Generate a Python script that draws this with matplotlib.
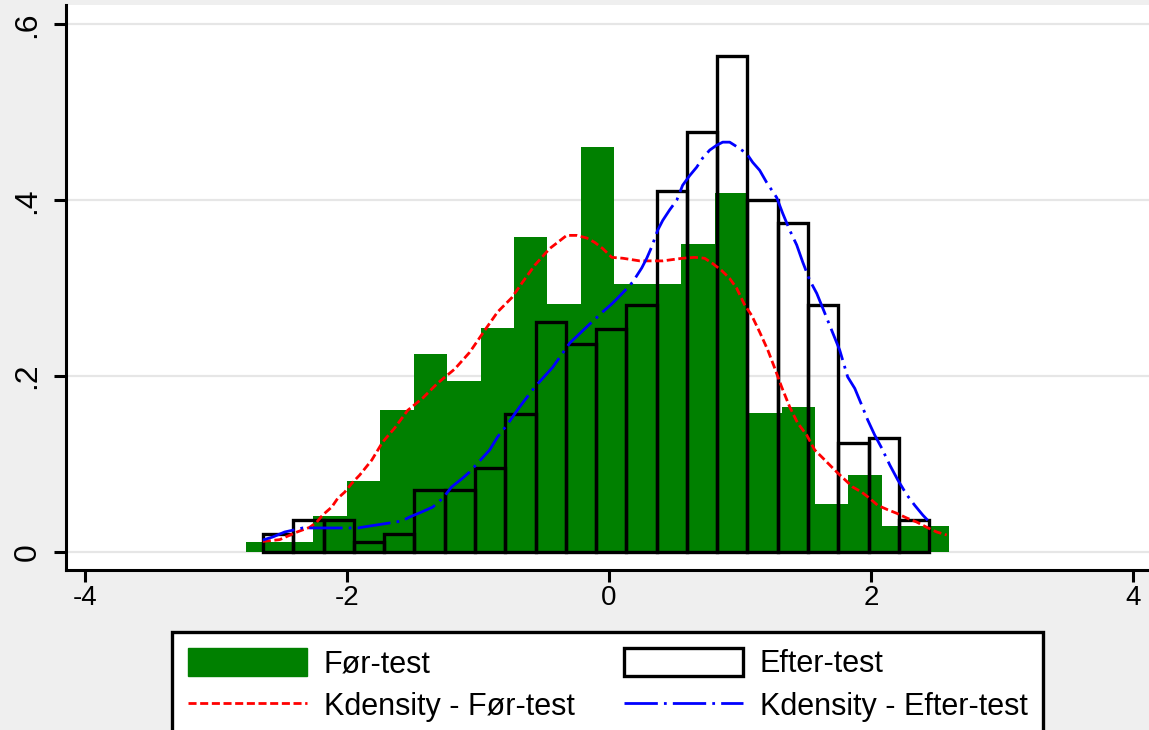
import numpy as np
import matplotlib
matplotlib.use("Agg")
import matplotlib.pyplot as plt
from matplotlib.patches import Patch
from matplotlib.lines import Line2D

plt.rcParams['font.family'] = ['Liberation Sans', 'DejaVu Sans']

# histogram "Før-test" (green): 21 bins
foer_start = -2.768
foer_width = 0.2553
foer_heights = [0.011, 0.011, 0.041, 0.081, 0.161, 0.225, 0.194, 0.255, 0.358, 0.282, 0.461,
                0.305, 0.305, 0.350, 0.408, 0.158, 0.165, 0.054, 0.088, 0.030, 0.030]

# histogram "Efter-test" (outlined): 22 bins
efter_start = -2.641
efter_width = 0.2311
efter_heights = [0.021, 0.036, 0.036, 0.011, 0.021, 0.0705, 0.0705, 0.096, 0.157, 0.261, 0.236,
                 0.253, 0.281, 0.410, 0.478, 0.564, 0.400, 0.374, 0.281, 0.124, 0.130, 0.036]

# kernel density, Før-test
kd_foer_x = [-2.643, -2.514, -2.438, -2.377, -2.285, -2.231, -2.186, -2.117, -2.071, -2.018,
             -1.964, -1.903, -1.811, -1.728, -1.636, -1.537, -1.422, -1.308, -1.178, -1.064,
             -0.949, -0.850, -0.743, -0.659, -0.567, -0.453, -0.323, -0.247, -0.170, -0.109,
             -0.048, 0.021, 0.105, 0.234, 0.410, 0.562, 0.654, 0.730, 0.791, 0.860,
             0.921, 0.974, 1.035, 1.089, 1.150, 1.211, 1.265, 1.318, 1.379, 1.440,
             1.509, 1.570, 1.631, 1.700, 1.746, 1.860, 1.929, 1.990, 2.051, 2.128,
             2.196, 2.273, 2.349, 2.426, 2.502, 2.578]
kd_foer_y = [0.012, 0.014, 0.019, 0.023, 0.028, 0.034, 0.042, 0.051, 0.061, 0.068,
             0.078, 0.0875, 0.1045, 0.125, 0.141, 0.161, 0.175, 0.192, 0.208, 0.227,
             0.252, 0.273, 0.289, 0.307, 0.326, 0.345, 0.360, 0.360, 0.357, 0.352,
             0.345, 0.335, 0.334, 0.331, 0.331, 0.334, 0.335, 0.334, 0.328, 0.320,
             0.311, 0.300, 0.281, 0.269, 0.250, 0.230, 0.209, 0.1875, 0.165, 0.1466,
             0.133, 0.116, 0.107, 0.0966, 0.0898, 0.0739, 0.068, 0.061, 0.053, 0.048,
             0.044, 0.0386, 0.034, 0.028, 0.0227, 0.0193]

# kernel density, Efter-test
kd_efter_x = [-2.643, -2.567, -2.476, -2.338, -2.132, -1.918, -1.827, -1.674, -1.582, -1.521,
              -1.430, -1.346, -1.270, -1.201, -1.117, -1.064, -1.003, -0.911, -0.850, -0.781,
              -0.682, -0.567, -0.430, -0.300, -0.170, -0.048, 0.028, 0.120, 0.181, 0.250,
              0.288, 0.326, 0.372, 0.410, 0.463, 0.517, 0.562, 0.616, 0.669, 0.715,
              0.769, 0.822, 0.868, 0.921, 0.974, 1.051, 1.097, 1.150, 1.204, 1.280,
              1.326, 1.379, 1.433, 1.479, 1.532, 1.586, 1.647, 1.700, 1.761, 1.822,
              1.876, 1.929, 1.975, 2.028, 2.082, 2.143, 2.204, 2.273, 2.334, 2.395, 2.433]
kd_efter_y = [0.0136, 0.017, 0.0227, 0.0273, 0.0273, 0.0273, 0.0295, 0.033, 0.0352, 0.0398,
              0.0455, 0.051, 0.061, 0.074, 0.084, 0.091, 0.101, 0.116, 0.131, 0.144,
              0.165, 0.1875, 0.210, 0.2375, 0.256, 0.273, 0.283, 0.297, 0.307, 0.323,
              0.334, 0.347, 0.366, 0.377, 0.389, 0.400, 0.417, 0.428, 0.4375, 0.448,
              0.457, 0.4625, 0.466, 0.466, 0.461, 0.453, 0.443, 0.434, 0.420, 0.403,
              0.385, 0.366, 0.349, 0.3295, 0.309, 0.294, 0.2716, 0.252, 0.2295, 0.199,
              0.186, 0.167, 0.150, 0.133, 0.118, 0.099, 0.082, 0.065, 0.053, 0.042, 0.036]

y_ticks = [0, 0.2, 0.4, 0.6]
y_labels = ['0', '.2', '.4', '.6']
x_ticks = [-4, -2, 0, 2, 4]
x_labels = ['-4', '-2', '0', '2', '4']

green = '#008000'

fig = plt.figure(figsize=(11.49, 7.30), dpi=100, facecolor='#efefef')
ax = fig.add_axes([65.5 / 1149, 1 - 570 / 730, 1 - 65.5 / 1149, (570 - 4.7) / 730])
ax.set_facecolor('white')

foer_edges = foer_start + foer_width * np.arange(len(foer_heights))
efter_edges = efter_start + efter_width * np.arange(len(efter_heights))

ax.bar(foer_edges, foer_heights, width=foer_width, align='edge', color=green,
       linewidth=0, zorder=2)
ax.bar(efter_edges, efter_heights, width=efter_width, align='edge', fill=False,
       edgecolor='black', linewidth=2.4, zorder=3)

ax.plot(kd_foer_x, kd_foer_y, color='red', linewidth=2.0, dashes=(2.9, 1.3), zorder=4)
ax.plot(kd_efter_x, kd_efter_y, color='blue', linewidth=2.0, dashes=(12, 2.2, 1, 2.2), zorder=4)

ax.set_xlim(-4.149, 4.122)
ax.set_ylim(-0.0205, 0.6223)
ax.set_xticks(x_ticks)
ax.set_xticklabels(x_labels, fontsize=20)
ax.set_yticks(y_ticks)
ax.set_yticklabels(y_labels, fontsize=23, rotation=90, va='center')
ax.yaxis.grid(True, color='#e6e6e6', linewidth=1.6, zorder=0)
ax.set_axisbelow(True)

for side in ['top', 'right']:
    ax.spines[side].set_visible(False)
for side in ['left', 'bottom']:
    ax.spines[side].set_linewidth(2.2)
ax.tick_params(axis='both', direction='out', length=8.6, width=2.2, color='black')
ax.tick_params(axis='y', pad=8)
ax.tick_params(axis='x', pad=2.5)

handles = [Patch(facecolor=green, edgecolor=green),
           Line2D([], [], color='red', linewidth=2.0, dashes=(2.9, 1.3)),
           Patch(facecolor='white', edgecolor='black', linewidth=2.4),
           Line2D([], [], color='blue', linewidth=2.0, dashes=(12, 2.2, 1, 2.2))]
labels = ['Før-test', 'Kdensity - Før-test', 'Efter-test', 'Kdensity - Efter-test']
leg = fig.legend(handles, labels, loc='upper left', bbox_to_anchor=(172 / 1149, 1 - 632 / 730),
                 ncol=2, fontsize=22, frameon=True, fancybox=False, edgecolor='black',
                 handlelength=3.9, handleheight=1.05, handletextpad=0.55, columnspacing=1.6,
                 labelspacing=0.37, borderpad=0.52, borderaxespad=0)
leg.get_frame().set_linewidth(2.4)
leg.get_frame().set_facecolor('white')
leg.get_frame().set_alpha(None)

fig.savefig('out.png', dpi=100, facecolor=fig.get_facecolor())
